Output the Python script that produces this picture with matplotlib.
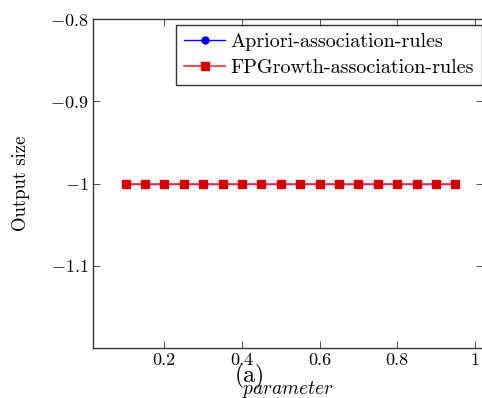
import matplotlib
matplotlib.use("Agg")
import matplotlib.pyplot as plt

plt.rcParams['font.family'] = ['cmr10', 'DejaVu Serif']
plt.rcParams['mathtext.fontset'] = 'cm'
plt.rcParams['axes.formatter.use_mathtext'] = True

params = [0.1, 0.15, 0.2, 0.25, 0.3, 0.35, 0.4, 0.45, 0.5, 0.55, 0.6, 0.65, 0.7, 0.75, 0.8, 0.85, 0.9, 0.95]
apriori = [-1] * len(params)
fpgrowth = [-1] * len(params)
xticks = [0.2, 0.4, 0.6, 0.8, 1.0]
xticklabels = ["0.2", "0.4", "0.6", "0.8", "1"]
yticks = [-0.8, -0.9, -1.0, -1.1]
yticklabels = [r"$-0.8$", r"$-0.9$", r"$-1$", r"$-1.1$"]

fig = plt.figure(figsize=(4.82, 3.98), dpi=100)
ax = fig.add_axes([0.193, 0.1256, 0.81, 0.8264])
ax.plot(params, apriori, color='blue', marker='o', markersize=5, linewidth=1,
        label='Apriori-association-rules')
ax.plot(params, fpgrowth, color='#ff3030', marker='s', markersize=6, linewidth=1.2,
        markerfacecolor='#d40000', markeredgecolor='#d40000',
        label='FPGrowth-association-rules')
ax.set_xlim(0.0163, 1.0225)
ax.set_ylim(-1.2, -0.8)
ax.set_xticks(xticks)
ax.set_xticklabels(xticklabels)
ax.set_yticks(yticks)
ax.set_yticklabels(yticklabels)
ax.tick_params(direction='in', length=5, labelsize=13, top=True, right=True, width=0.6, color='#333333')
for s in ax.spines.values():
    s.set_linewidth(1.0)
    s.set_color('#333333')
ax.set_ylabel('Output size', fontsize=13.5, labelpad=14)
ax.set_xlabel(r'$parameter$', fontsize=14, labelpad=8)
leg = ax.legend(loc='upper right', bbox_to_anchor=(0.997, 0.982), fontsize=14.5, frameon=True,
                fancybox=False, edgecolor='black', handlelength=2.0, borderpad=0.4,
                labelspacing=0.4, handletextpad=0.3, borderaxespad=0)
leg.get_frame().set_linewidth(1.0)
fig.text(0.518, 0.053, '(a)', fontsize=17, ha='center', va='center')
fig.savefig('out.png', dpi=100)
